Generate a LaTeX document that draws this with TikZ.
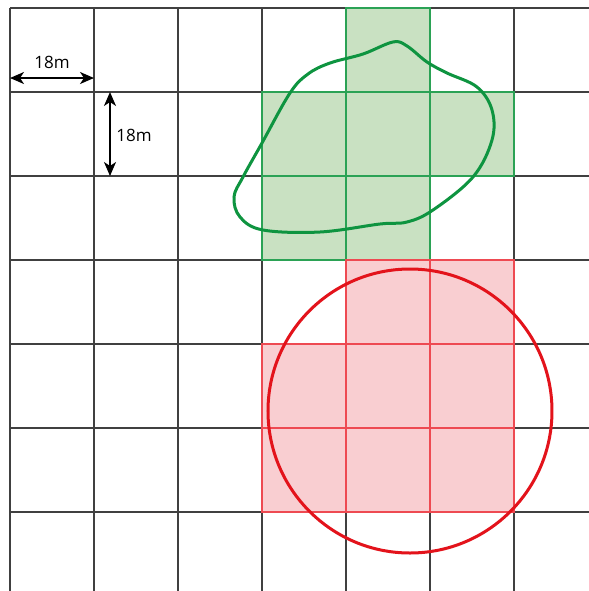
\documentclass[tikz,border=0pt]{standalone}
\usepackage{fontspec}
\setmainfont{Open Sans}
\usetikzlibrary{arrows.meta}
\definecolor{gfill}{HTML}{C9E1C2}
\definecolor{gline}{HTML}{2BA255}
\definecolor{gcurve}{HTML}{0E9440}
\definecolor{rfill}{HTML}{F9CED1}
\definecolor{rline}{HTML}{EE4A52}
\definecolor{rcurve}{HTML}{E3131B}
\tikzset{
  gridline/.style={line width=1pt, draw=black!75},
  gcell/.style={fill=gfill, draw=gline, line width=0.7pt},
  rcell/.style={fill=rfill, draw=rline, line width=0.7pt},
  dimarrow/.style={line width=0.9pt, {Stealth[length=7pt,width=6pt,inset=2pt]}-{Stealth[length=7pt,width=6pt,inset=2pt]}},
  dimlabel/.style={font=\fontsize{8.5pt}{10pt}\selectfont, inner sep=1pt}
}
\begin{document}
\begin{tikzpicture}[x=0.5pt,y=-0.5pt]
\useasboundingbox (0,0) rectangle (589,591);
\fill[white] (0,0) rectangle (589,591);
% black grid
\foreach \x in {10,94,178,262,346,430,514}
  \draw[gridline] (\x,8) -- (\x,591);
\foreach \y in {8,92,176,260,344,428,512}
  \draw[gridline] (10,\y) -- (589,\y);
% green cells
\foreach \c/\r in {346/8,346/92,346/176,262/92,262/176,430/92}
  \draw[gcell] (\c,\r) rectangle ++(84,84);
% red cells
\foreach \c/\r in {346/260,430/260,262/344,346/344,430/344,262/428,346/428,430/428}
  \draw[rcell] (\c,\r) rectangle ++(84,84);
% green blob
\draw[gcurve, line width=1.5pt] plot[smooth cycle, tension=0.6] coordinates {
  (393,42) (363,54) (330,63) (308,74) (290,93) (262,143) (243,177) (234,197)
  (240,217) (263,230) (320,232) (380,224) (407,222) (433,210) (473,177)
  (492,140) (492,110) (477,87) (447,73) (427,62) (407,46)};
% red circle
\node[draw=rcurve, line width=1.5pt, circle, minimum size=142pt, inner sep=0pt] (circ) at (410,411) {};
% dimension arrows
\coordinate (h1) at (10,78);
\coordinate (h2) at (94,78);
\draw[dimarrow] (h1) -- (h2);
\node[dimlabel] (hl) at (52,62) {18m};
\coordinate (v1) at (110,92);
\coordinate (v2) at (110,176);
\draw[dimarrow] (v1) -- (v2);
\node[dimlabel, anchor=west] (vl) at (114,135) {18m};
\end{tikzpicture}
\end{document}
